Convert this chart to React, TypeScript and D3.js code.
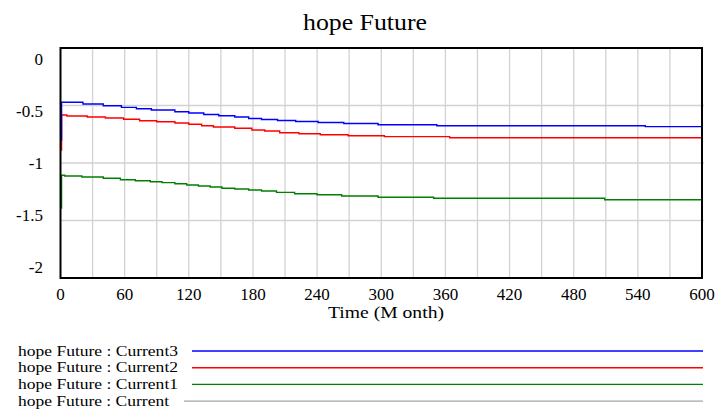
import { useEffect, useRef } from 'react';
import * as d3 from 'd3';

// step data: [month, value]
const current3: [number, number][] = [
  [0, -0.8], [1, -0.472], [21, -0.487], [40, -0.502], [57, -0.516], [71, -0.528], [85, -0.539],
  [107, -0.554], [120, -0.565], [134, -0.578], [148, -0.589], [163, -0.6], [176, -0.613],
  [188, -0.622], [203, -0.63], [220, -0.639], [241, -0.648], [265, -0.656], [297, -0.667],
  [352, -0.676], [547, -0.684], [600, -0.684],
];
const current2: [number, number][] = [
  [0, -0.887], [1, -0.583], [6, -0.591], [25, -0.6], [42, -0.609], [59, -0.62], [74, -0.632],
  [90, -0.641], [107, -0.652], [120, -0.663], [132, -0.676], [143, -0.687], [163, -0.698],
  [179, -0.713], [191, -0.722], [205, -0.737], [223, -0.745], [243, -0.754], [269, -0.763],
  [303, -0.771], [364, -0.781], [600, -0.781],
];
const current1: [number, number][] = [
  [0, -1.391], [1, -1.107], [4, -1.113], [20, -1.122], [40, -1.133], [56, -1.145], [70, -1.154],
  [84, -1.163], [95, -1.171], [107, -1.18], [118, -1.191], [129, -1.2], [140, -1.209],
  [151, -1.22], [163, -1.226], [176, -1.235], [188, -1.243], [202, -1.255], [219, -1.267],
  [240, -1.276], [263, -1.287], [297, -1.298], [349, -1.307], [509, -1.319], [600, -1.319],
];
const current0: [number, number][] = [[0, 0], [600, 0]];

const seriesNames = ['hope Future : Current3', 'hope Future : Current2', 'hope Future : Current1', 'hope Future : Current'];
const seriesColors = ['#0000ff', '#ff0000', '#008000', '#a6a6a6'];
const seriesData = [current3, current2, current1, current0];

const xTicks = [0, 60, 120, 180, 240, 300, 360, 420, 480, 540, 600];
const yTicks = [0, -0.5, -1, -1.5, -2];

const W = 717;
const H = 410;
const plot = { left: 60.5, right: 702, top: 48, bottom: 278 };
const font = '"Liberation Serif", "Times New Roman", serif';

export default function App() {
  const ref = useRef<SVGSVGElement | null>(null);

  useEffect(() => {
    const svg = d3.select(ref.current);
    svg.selectAll('*').remove();

    const x = d3.scaleLinear().domain([0, 600]).range([plot.left, plot.right]);
    const y = d3.scaleLinear().domain([0, -2]).range([plot.top, plot.bottom]);
    // vensim puts the value labels on an evenly spread column of its own
    const yLabel = d3.scaleLinear().domain([0, -2]).range([65, 273]);

    svg.append('text')
      .attr('x', 365).attr('y', 30)
      .attr('text-anchor', 'middle')
      .attr('textLength', 124)
      .attr('lengthAdjust', 'spacingAndGlyphs')
      .style('font', `23px ${font}`)
      .text('hope Future');

    const grid = svg.append('g').attr('stroke', '#d2d2d2').attr('stroke-width', 1.3);
    grid.selectAll('line.v')
      .data(d3.range(30, 600, 30))
      .enter().append('line')
      .attr('x1', d => x(d)).attr('x2', d => x(d))
      .attr('y1', plot.top).attr('y2', plot.bottom);
    grid.selectAll('line.h')
      .data(yTicks.slice(1, -1))
      .enter().append('line')
      .attr('x1', plot.left).attr('x2', plot.right + 2)
      .attr('y1', d => y(d)).attr('y2', d => y(d));

    const line = d3.line<[number, number]>()
      .x(d => x(d[0]))
      .y(d => y(d[1]))
      .curve(d3.curveStepAfter);

    [3, 2, 1, 0].forEach(i => {
      svg.append('path')
        .attr('d', line(seriesData[i]) as string)
        .attr('fill', 'none')
        .attr('stroke', seriesColors[i])
        .attr('stroke-width', 1.4);
    });

    svg.append('rect')
      .attr('x', plot.left).attr('y', plot.top)
      .attr('width', plot.right - plot.left).attr('height', plot.bottom - plot.top)
      .attr('fill', 'none').attr('stroke', '#000').attr('stroke-width', 2);

    svg.append('g').selectAll('text')
      .data(yTicks)
      .enter().append('text')
      .attr('x', 43).attr('y', d => yLabel(d))
      .attr('text-anchor', 'end')
      .style('font', `17px ${font}`)
      .text(d => String(d));

    svg.append('g').selectAll('text')
      .data(xTicks)
      .enter().append('text')
      .attr('x', d => x(d)).attr('y', 300)
      .attr('text-anchor', 'middle')
      .style('font', `17px ${font}`)
      .text(d => d);

    svg.append('text')
      .attr('x', 386).attr('y', 318)
      .attr('text-anchor', 'middle')
      .attr('textLength', 116)
      .attr('lengthAdjust', 'spacingAndGlyphs')
      .style('font', `17px ${font}`)
      .text('Time (M onth)');

    const legend = svg.append('g');
    seriesNames.forEach((name, i) => {
      const ly = 351 + i * 16.7;
      legend.append('text')
        .attr('x', 18).attr('y', ly + 4.5)
        .attr('textLength', i === 3 ? 151 : 160)
        .attr('lengthAdjust', 'spacingAndGlyphs')
        .style('font', `14px ${font}`)
        .text(name);
      legend.append('line')
        .attr('x1', i === 3 ? 184 : 192).attr('x2', 703)
        .attr('y1', ly).attr('y2', ly)
        .attr('stroke', seriesColors[i])
        .attr('stroke-width', 1.4);
    });
  }, []);

  return (
    <svg
      ref={ref}
      width={W}
      height={H}
      style={{ position: 'absolute', left: 0, top: 0, background: '#fff' }}
    />
  );
}
